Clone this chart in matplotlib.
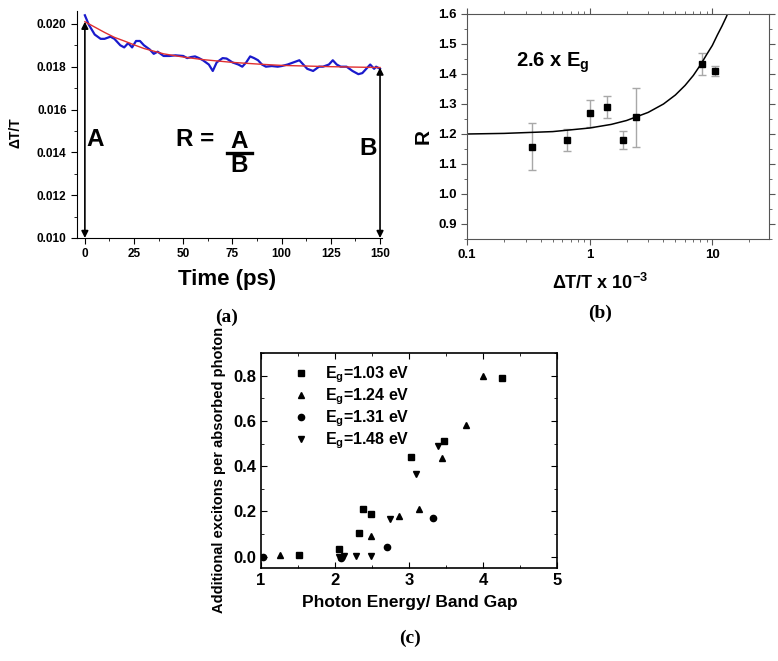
import matplotlib
matplotlib.use('Agg')
import matplotlib.pyplot as plt
from matplotlib.ticker import MultipleLocator, FixedLocator, NullFormatter

plt.rcParams['font.family'] = ['Liberation Sans', 'DejaVu Sans']
plt.rcParams['font.weight'] = 'bold'
plt.rcParams['mathtext.fontset'] = 'custom'
plt.rcParams['mathtext.rm'] = 'Liberation Sans:bold'
plt.rcParams['mathtext.bf'] = 'Liberation Sans:bold'
plt.rcParams['mathtext.default'] = 'rm'

# ---- panel (a): transient dT/T trace and fit
time_ps = [0, 2, 5, 8, 10, 13, 15, 18, 20, 22, 24, 26, 28, 30, 33, 35, 37, 40, 43,
           46, 50, 52, 54, 56, 58, 60, 63, 65, 67, 70, 72, 75, 78, 80, 82, 84, 86,
           88, 90, 92, 95, 98, 100, 103, 106, 109, 111, 113, 116, 119, 121, 124,
           126, 128, 130, 133, 136, 139, 141, 143, 145, 147, 148, 150]
signal = [0.0204, 0.01996, 0.0195, 0.0193, 0.0193, 0.0194, 0.0193, 0.0190, 0.0189,
          0.0191, 0.0189, 0.0192, 0.0192, 0.0190, 0.0188, 0.0186, 0.0187, 0.0185,
          0.0185, 0.01853, 0.0185, 0.01840, 0.01845, 0.01848, 0.0184, 0.0183,
          0.0181, 0.0178, 0.0182, 0.0184, 0.01838, 0.0182, 0.0181, 0.0180, 0.0182,
          0.01848, 0.0184, 0.0183, 0.0181, 0.0180, 0.01803, 0.0180, 0.01803,
          0.0181, 0.0182, 0.0183, 0.0181, 0.0179, 0.0178, 0.0180, 0.0180, 0.0181,
          0.0183, 0.0181, 0.0180, 0.0180, 0.0178, 0.01765, 0.0177, 0.0179, 0.0181,
          0.0179, 0.0180, 0.0179]
fit_t = [0, 5, 10, 15, 20, 25, 30, 40, 50, 60, 75, 90, 100, 125, 150]
fit_a = [0.0201, 0.01985, 0.0196, 0.01937, 0.0192, 0.01902, 0.01885, 0.0186,
         0.01845, 0.01833, 0.0182, 0.01811, 0.01806, 0.018, 0.01796]

# ---- panel (b): R vs dT/T
dtt = [0.34, 0.65, 1.0, 1.39, 1.86, 2.39, 8.2, 10.5]
r_val = [1.158, 1.18, 1.269, 1.291, 1.18, 1.256, 1.433, 1.41]
r_err = [0.078, 0.038, 0.044, 0.037, 0.031, 0.098, 0.037, 0.017]
curve_x = [0.1, 0.2, 0.5, 1, 1.5, 2, 3, 4, 5, 6, 7, 8, 9, 10, 11, 12, 13, 13.6]
curve_r = [1.200, 1.202, 1.208, 1.220, 1.232, 1.245, 1.272, 1.300, 1.330, 1.362,
           1.395, 1.430, 1.465, 1.495, 1.530, 1.560, 1.590, 1.610]

# ---- panel (c): additional excitons per absorbed photon
sq_x = [1.51, 2.06, 2.33, 2.38, 2.49, 3.03, 3.47, 4.26]
sq_y = [0.006, 0.035, 0.104, 0.21, 0.19, 0.44, 0.509, 0.79]
tri_x = [1.26, 2.49, 2.87, 3.14, 3.45, 3.77, 4.0]
tri_y = [0.006, 0.093, 0.181, 0.21, 0.437, 0.584, 0.80]
circ_x = [1.03, 2.08, 2.70, 3.32]
circ_y = [0.0, -0.006, 0.043, 0.169]
dtri_x = [2.06, 2.12, 2.28, 2.48, 2.74, 3.09, 3.39]
dtri_y = [0.0, 0.003, 0.003, 0.003, 0.165, 0.365, 0.487]
legend_labels = ['E$_{g}$=1.03 eV', 'E$_{g}$=1.24 eV', 'E$_{g}$=1.31 eV', 'E$_{g}$=1.48 eV']

W, H = 778, 661
fig = plt.figure(figsize=(W / 100, H / 100), dpi=100)


def fx(px):
    return px / W


def fy(py):
    return 1 - py / H


# panel (a)
ax1 = fig.add_axes([fx(77), fy(238), fx(382 - 77), (238 - 11) / H])
ax1.plot(time_ps, signal, color='#1a1acc', lw=1.6)
ax1.plot(fit_t, fit_a, color='#e03030', lw=1.0)
ax1.set_xlim(-4, 151)
ax1.set_ylim(0.010, 0.0206)
ax1.spines['top'].set_visible(False)
ax1.spines['right'].set_visible(False)
ax1.xaxis.set_major_locator(MultipleLocator(25))
ax1.xaxis.set_minor_locator(MultipleLocator(12.5))
ax1.yaxis.set_major_locator(FixedLocator([0.010, 0.012, 0.014, 0.016, 0.018, 0.020]))
ax1.yaxis.set_minor_locator(MultipleLocator(0.001))
ax1.yaxis.set_major_formatter(matplotlib.ticker.FormatStrFormatter('%.3f'))
ax1.tick_params(which='both', direction='out', labelsize=8.5)
ax1.tick_params(which='major', length=4)
ax1.tick_params(which='minor', length=2.5)
for xa, ya in [(0, fit_a[0]), (150, fit_a[-1])]:
    ax1.annotate('', xy=(xa, 0.0100), xytext=(xa, ya),
                 arrowprops=dict(arrowstyle='<|-|>', color='black', lw=1.2,
                                 mutation_scale=10, shrinkA=0, shrinkB=0),
                 annotation_clip=False)
big = 17.5
ax1.text(1, 0.01458, 'A', fontsize=big, fontweight='bold', va='center', ha='left')
ax1.text(144, 0.0142, 'B', fontsize=big, fontweight='bold', va='center', ha='center')
ax1.text(46.5, 0.01458, 'R =', fontsize=big, fontweight='bold', va='center', ha='left')
ax1.text(78.5, 0.01451, 'A', fontsize=big, fontweight='bold', va='center', ha='center')
ax1.text(78.5, 0.01338, 'B', fontsize=big, fontweight='bold', va='center', ha='center')
ax1.plot([72, 85], [0.01397, 0.01397], color='black', lw=2.4)
fig.text(fx(15), fy(133), 'ΔT/T', rotation=90, fontsize=10, fontweight='bold',
         ha='center', va='center')
fig.text(fx(227), fy(280), 'Time (ps)', fontsize=16, fontweight='bold',
         ha='center', va='center')
fig.text(fx(227), fy(317), '(a)', fontsize=14, fontweight='bold',
         family='Liberation Serif', ha='center', va='center')

# panel (b)
ax2 = fig.add_axes([fx(467), fy(239), fx(769 - 467), (239 - 14) / H])
ax2.set_xscale('log')
ax2.errorbar(dtt, r_val, yerr=r_err, fmt='none', ecolor='#a8a8a8', elinewidth=1,
             capsize=3, capthick=1)
ax2.plot(dtt, r_val, 's', color='black', markersize=5)
ax2.plot(curve_x, curve_r, color='black', lw=1.1)
ax2.set_xlim(0.1, 29)
ax2.set_ylim(0.85, 1.6)
ax2.yaxis.set_major_locator(MultipleLocator(0.1))
ax2.yaxis.set_minor_locator(MultipleLocator(0.05))
ax2.xaxis.set_major_locator(FixedLocator([0.1, 1, 10]))
ax2.xaxis.set_major_formatter(matplotlib.ticker.FixedFormatter(['0.1', '1', '10']))
ax2.xaxis.set_minor_formatter(NullFormatter())
for s in ax2.spines.values():
    s.set_color('#555555')
ax2.tick_params(which='both', direction='out', labelsize=9.5, color='#555555')
ax2.tick_params(which='major', length=4)
ax2.tick_params(which='minor', length=2.5)
ax2.tick_params(which='both', top=True, right=True, labeltop=False, labelright=False)
ax2.text(0.25, 1.423, '2.6 x E$_{g}$', fontsize=14.5, fontweight='bold', va='baseline')
fig.text(fx(423), fy(137), 'R', rotation=90, fontsize=15, fontweight='bold',
         ha='center', va='center')
fig.text(fx(600), fy(283), 'ΔT/T x 10$^{-3}$', fontsize=13, fontweight='bold',
         ha='center', va='center')
fig.text(fx(600), fy(313), '(b)', fontsize=14, fontweight='bold',
         family='Liberation Serif', ha='center', va='center')

# panel (c)
ax3 = fig.add_axes([fx(261), fy(568), fx(557 - 261), (568 - 353) / H])
ms = 4.5
ax3.plot(sq_x, sq_y, 's', color='black', markersize=ms - 0.5, label=legend_labels[0])
ax3.plot(tri_x, tri_y, '^', color='black', markersize=ms, label=legend_labels[1])
ax3.plot(circ_x, circ_y, 'o', color='black', markersize=ms, label=legend_labels[2])
ax3.plot(dtri_x, dtri_y, 'v', color='black', markersize=ms, label=legend_labels[3])
ax3.set_xlim(1, 5)
ax3.set_ylim(-0.05, 0.9)
ax3.xaxis.set_major_locator(MultipleLocator(1))
ax3.xaxis.set_minor_locator(MultipleLocator(0.5))
ax3.yaxis.set_major_locator(FixedLocator([0.0, 0.2, 0.4, 0.6, 0.8]))
ax3.yaxis.set_minor_locator(MultipleLocator(0.1))
ax3.yaxis.set_major_formatter(matplotlib.ticker.FormatStrFormatter('%.1f'))
ax3.tick_params(which='both', direction='in', top=True, right=True, labelsize=12)
ax3.tick_params(which='major', length=4)
ax3.tick_params(which='minor', length=2.5)
for s in ax3.spines.values():
    s.set_linewidth(1.2)
leg = ax3.legend(loc='upper left', frameon=False, fontsize=11.5, handletextpad=0.5,
                 borderaxespad=0.2, labelspacing=0.08, bbox_to_anchor=(0.05, 0.99))
fig.text(fx(219), fy(470), 'Additional excitons per absorbed photon', rotation=90,
         fontsize=10.5, fontweight='bold', ha='center', va='center')
fig.text(fx(410), fy(603), 'Photon Energy/ Band Gap', fontsize=12.5, fontweight='bold',
         ha='center', va='center')
fig.text(fx(410), fy(638), '(c)', fontsize=14, fontweight='bold',
         family='Liberation Serif', ha='center', va='center')

fig.savefig('out.png', dpi=100)
